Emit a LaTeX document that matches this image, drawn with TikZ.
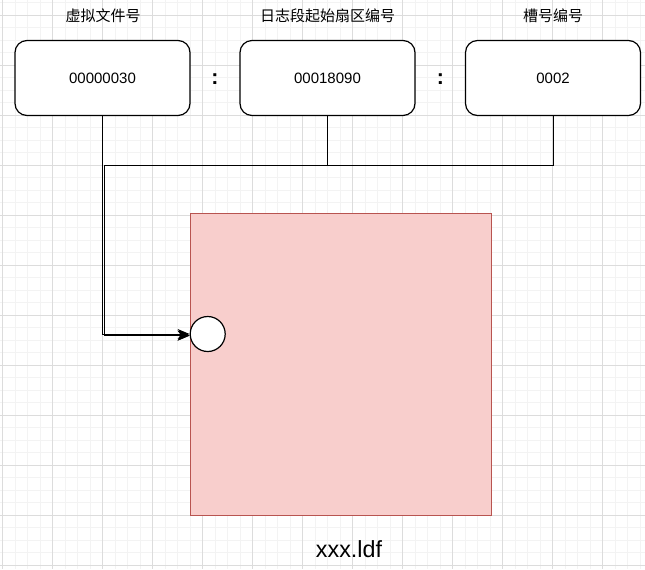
\documentclass[tikz,border=0pt]{standalone}
\usepackage{fontspec}
\setmainfont{Liberation Sans}
\newfontfamily\cjk{Noto Sans CJK SC}
\usetikzlibrary{arrows.meta}

\definecolor{gridminor}{HTML}{F3F3F3}
\definecolor{gridmajor}{HTML}{DCDCDC}
\definecolor{ldffill}{HTML}{F8CECC}
\definecolor{ldfdraw}{HTML}{B85450}

\tikzset{
	field/.style={rectangle, draw=black, line width=0.9pt, rounded corners=9pt, fill=white,
		minimum width=131.25pt, minimum height=56.25pt, font=\fontsize{11.25}{13}\selectfont},
	title/.style={font=\cjk\fontsize{11.25}{13}\selectfont},
	sep/.style={font=\bfseries\fontsize{16}{18}\selectfont},
	link/.style={draw=black, line width=0.75pt, -{Stealth[length=9pt, width=7.5pt]}},
}

\begin{document}
\begin{tikzpicture}[x=0.75pt, y=-0.75pt]
		\useasboundingbox (0,0) rectangle (645,569);
		\fill[white] (0,0) rectangle (645,569);
		% grid
		\foreach \gx in {2.5,15,...,645} \draw[gridminor, line width=0.75pt] (\gx,0) -- (\gx,569);
		\foreach \gy in {2.8,15.3,...,569} \draw[gridminor, line width=0.75pt] (0,\gy) -- (645,\gy);
		\foreach \gx in {2.5,52.5,...,645} \draw[gridmajor, line width=0.75pt] (\gx,0) -- (\gx,569);
		\foreach \gy in {15.3,65.3,...,569} \draw[gridmajor, line width=0.75pt] (0,\gy) -- (645,\gy);
		\def\yf{78}
		\node[title] (t1) at (103, 16) {虚拟文件号};
		\node[title] (t2) at (327.5, 16) {日志段起始扇区编号};
		\node[title] (t3) at (553, 16) {槽号编号};
		\node[field] (f1) at (102.5, \yf) {00000030};
		\node[field] (f2) at (327.5, \yf) {00018090};
		\node[field] (f3) at (553, \yf) {0002};
		\node[sep] (c1) at (214.8, 79) {:};
		\node[sep] (c2) at (440.3, 79) {:};
		\node[rectangle, draw=ldfdraw, fill=ldffill, line width=0.75pt,
			minimum width=225.75pt, minimum height=226.5pt] (ldf) at (340.5, 364) {};
		\node[circle, draw=black, line width=0.9pt, fill=white, minimum size=26.25pt, inner sep=0pt] (hole) at (207.7, 334) {};
		\node[font=\fontsize{17.5}{20}\selectfont] (name) at (349, 549) {xxx.ldf};
		\coordinate (j2) at (104.2, 165);
		\coordinate (j3) at (104.2, 165);
		\draw[link] (f1.south) |- (hole.west);
		\draw[link] (f2.south) |- (j2) |- ([yshift=-1.2pt]hole.west);
		\draw[link] (f3.south) |- (j3) |- ([yshift=-1.2pt]hole.west);
	\end{tikzpicture}
\end{document}
